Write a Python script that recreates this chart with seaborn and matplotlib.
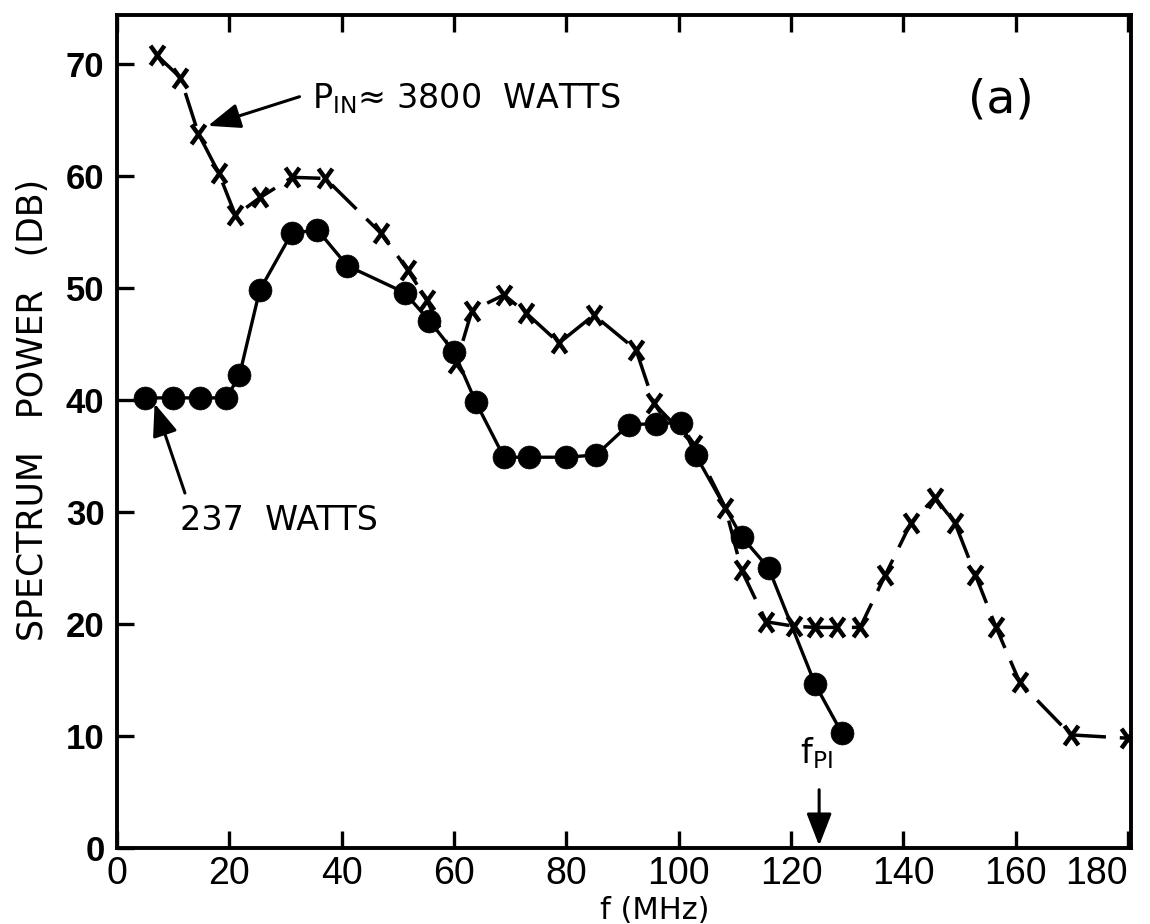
import matplotlib
matplotlib.use("Agg")
import matplotlib.pyplot as plt
from matplotlib.path import Path
import seaborn as sns

# Spectrum power (dB) versus frequency (MHz) at two input powers
freq_high = [7.1, 11.3, 14.5, 18.1, 21.1, 25.5, 31.2, 37.1, 47.0, 51.8, 55.2, 60.4,
             63.2, 68.9, 72.8, 78.7, 84.9, 92.4, 95.6, 102.7, 108.3, 111.2, 115.6,
             120.6, 124.3, 128.2, 132.3, 136.8, 141.3, 145.6, 149.2, 152.8, 156.5,
             160.7, 169.8, 180.0]
power_high = [70.8, 68.8, 63.8, 60.3, 56.5, 58.1, 59.9, 59.8, 54.9, 51.6, 48.9, 43.3,
              48.0, 49.4, 47.8, 45.1, 47.6, 44.5, 39.7, 36.0, 30.4, 24.8, 20.2,
              19.8, 19.7, 19.7, 19.7, 24.4, 29.0, 31.3, 29.0, 24.4, 19.7,
              14.8, 10.1, 9.8]

freq_low = [5.0, 10.0, 14.7, 19.5, 21.8, 25.4, 31.1, 35.7, 41.0, 51.2, 55.6, 60.0,
            63.9, 68.9, 73.4, 80.0, 85.3, 91.1, 95.9, 100.4, 103.0, 111.2, 116.0,
            124.3, 129.0]
power_low = [40.2, 40.2, 40.2, 40.2, 42.2, 49.8, 54.9, 55.2, 52.0, 49.6, 47.1, 44.3,
             39.8, 34.9, 34.9, 34.9, 35.1, 37.8, 37.9, 38.0, 35.1, 27.8, 25.0,
             14.6, 10.3]

F_PI = 125.0
x_ticks = [0, 20, 40, 60, 80, 100, 120, 140, 160, 180]
y_ticks = [0, 10, 20, 30, 40, 50, 60, 70]

sns.set_theme(style="ticks")
plt.rcParams["font.family"] = ["DejaVu Sans"]
for key in ("text.color", "axes.labelcolor", "xtick.color", "ytick.color",
            "axes.edgecolor"):
    plt.rcParams[key] = "black"

fig = plt.figure(figsize=(11.5, 9.24), dpi=100)
ax = fig.add_axes([0.1017, 0.0823, 0.8817, 0.9015])
ax.set_facecolor("white")
fig.patch.set_facecolor("white")

# tall hand-lettered style cross
cross = Path([(-0.72, -1), (0.72, 1), (-0.72, 1), (0.72, -1)],
             [Path.MOVETO, Path.LINETO, Path.MOVETO, Path.LINETO])

sns.lineplot(x=freq_high, y=power_high, ax=ax, color="black", linewidth=2.5,
             linestyle=(0, (10, 4)), marker=cross, markersize=14,
             markeredgewidth=3.2, markeredgecolor="black",
             estimator=None, sort=False, zorder=3)
sns.lineplot(x=freq_low, y=power_low, ax=ax, color="black", linewidth=2.4,
             marker="o", markersize=16.5, markeredgecolor="black",
             markeredgewidth=0.5, estimator=None, sort=False, zorder=4)

ax.set_xlim(0, 180.5)
ax.set_ylim(0, 74.4)
ax.set_xticks(x_ticks)
ax.set_yticks(y_ticks)

for s in ax.spines.values():
    s.set_linewidth(2.8)
    s.set_color("black")

ax.tick_params(axis="both", direction="in", length=12, width=2.4,
               color="black", labelcolor="black", top=True, right=False)
ax.tick_params(axis="x", pad=6)
ax.tick_params(axis="y", pad=9)

xlabels = ax.get_xticklabels()
for lab in xlabels:
    lab.set_fontfamily(["Liberation Sans", "DejaVu Sans"])
    lab.set_fontsize(27)
xlabels[-1].set_horizontalalignment("right")
for lab in ax.get_yticklabels():
    lab.set_fontfamily(["Liberation Sans", "DejaVu Sans"])
    lab.set_fontweight("bold")
    lab.set_fontsize(25)

ax.set_xlabel("f (MHz)", fontsize=22)
ax.xaxis.set_label_coords(0.53, -0.058)
ax.set_ylabel("SPECTRUM   POWER   (DB)", fontsize=25)
ax.yaxis.set_label_coords(-0.066, 0.526)

arrow_kw = dict(arrowstyle="-|>,head_length=0.9,head_width=0.35",
                color="black", lw=2.2, shrinkA=0, shrinkB=0, mutation_scale=22)

ax.text(34.8, 66.1, r"P$_{\mathregular{IN}}$≈ 3800  WATTS", fontsize=24,
        ha="left", va="baseline")
ax.annotate("", xy=(16.2, 64.5), xytext=(32.5, 67.1), arrowprops=arrow_kw)

ax.text(11.2, 28.4, "237  WATTS", fontsize=24, ha="left", va="baseline")
ax.annotate("", xy=(6.7, 39.7), xytext=(12.1, 31.7), arrowprops=arrow_kw)

ax.text(157.4, 66.8, "(a)", fontsize=34, ha="center", va="center")

ax.text(F_PI - 0.5, 7.6, r"$\mathregular{f_{PI}}$", fontsize=24, ha="center",
        va="baseline")
ax.annotate("", xy=(F_PI, 0.2), xytext=(F_PI, 5.2), arrowprops=arrow_kw)

fig.savefig("out.png", dpi=100, facecolor="white")
